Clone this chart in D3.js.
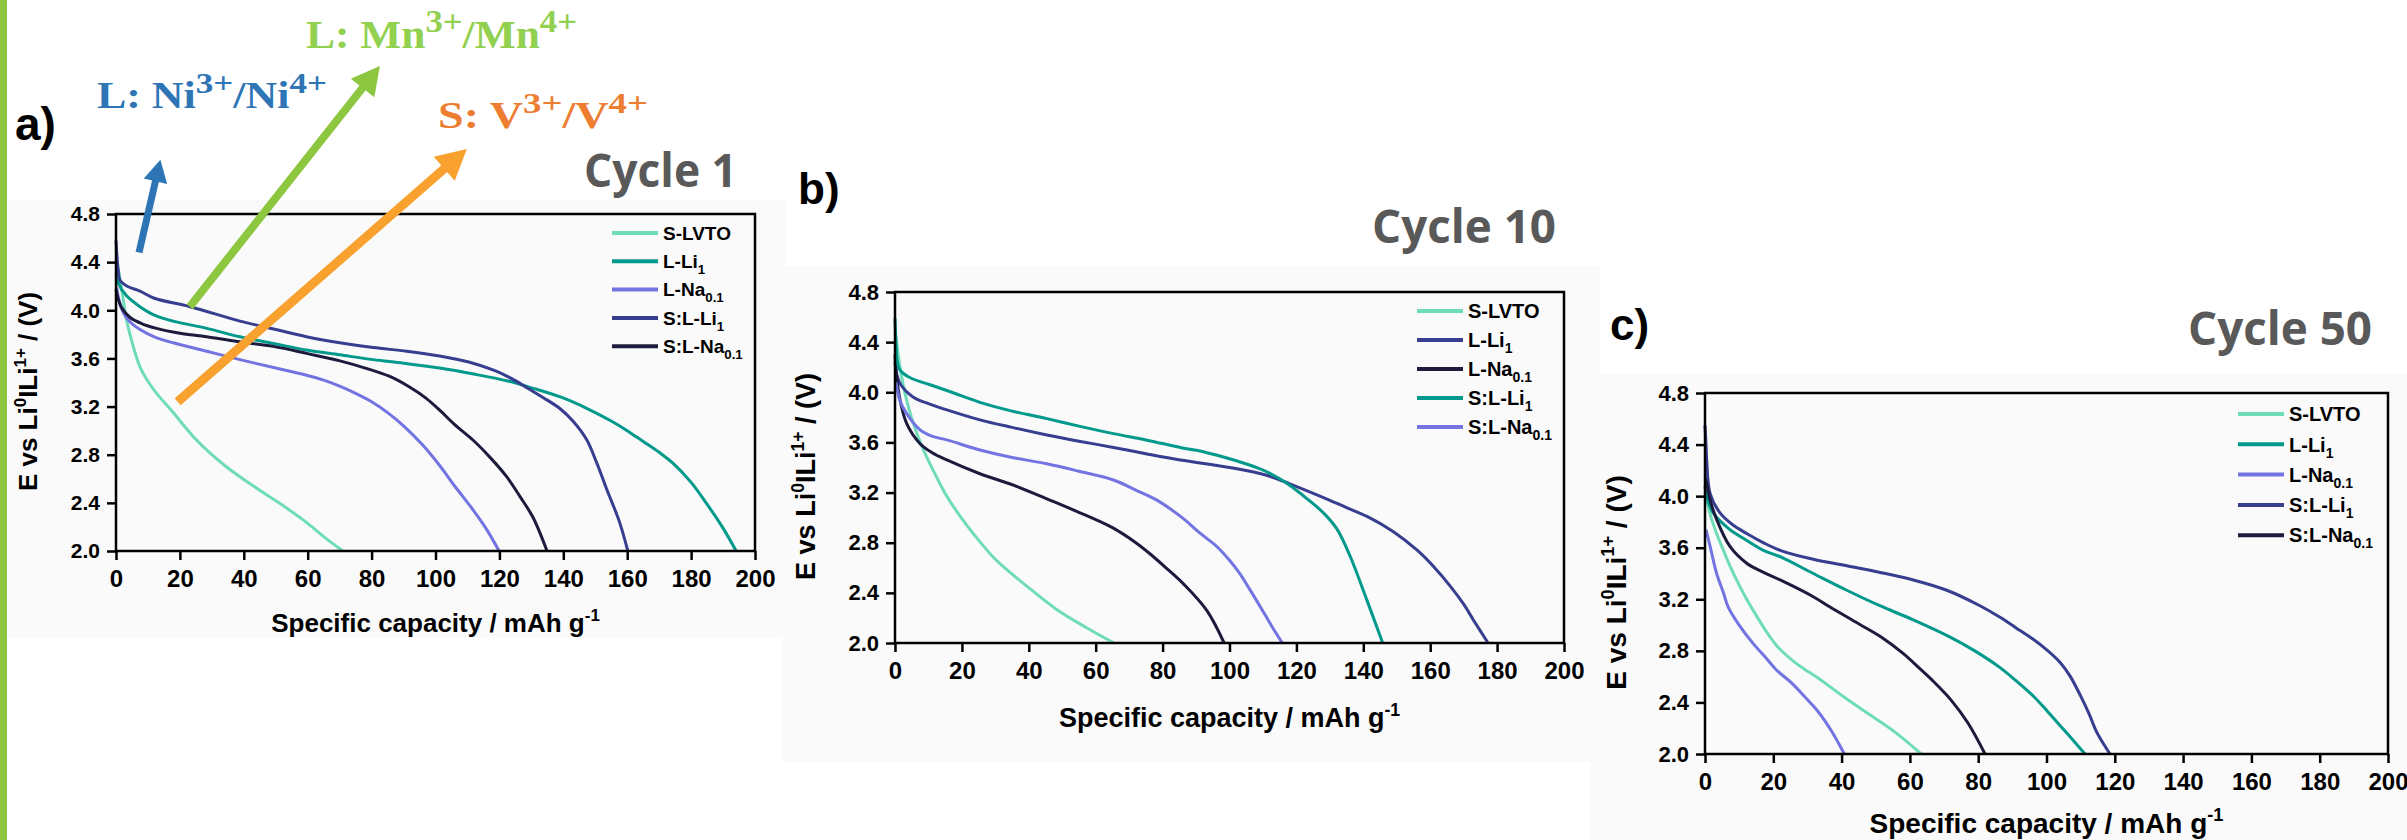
<!DOCTYPE html>
<html>
<head>
<meta charset="utf-8">
<script src="https://cdn.jsdelivr.net/npm/d3@7"></script>
<style>
body { margin: 0; background: #fff; }
svg { display: block; }
</style>
</head>
<body>
<svg id="fig" width="2407" height="840"></svg>
<script>
// ---------- data ----------
var capTicks = [0, 20, 40, 60, 80, 100, 120, 140, 160, 180, 200];
var voltTicks = [2.0, 2.4, 2.8, 3.2, 3.6, 4.0, 4.4, 4.8];
var seriesNames = ["S-LVTO", "L-Li", "L-Na", "S:L-Li", "S:L-Na"];
var seriesSubs = ["", "1", "0.1", "1", "0.1"];
var cycleTitles = ["Cycle 1", "Cycle 10", "Cycle 50"];
var panelLetters = ["a)", "b)", "c)"];

// cycle 1  [capacity mAh/g, E / V]
var c1_SLVTO = [[0.3,4.41],[1.8,4.17],[3.3,3.92],[5.4,3.70],[7.5,3.53],[10,3.41],[12.7,3.31],[17.9,3.15],[24.2,2.95],[30,2.80],[35,2.69],[43,2.54],[51,2.40],[59,2.25],[65,2.12],[71,2.0]];
var c1_LLi = [[0,4.30],[0.8,4.22],[3.3,4.12],[7.5,4.03],[12,3.96],[17.9,3.91],[28.4,3.85],[38.8,3.78],[50,3.72],[59.6,3.67],[70,3.63],[80.5,3.59],[90,3.56],[101.3,3.52],[112,3.47],[123,3.41],[129.5,3.36],[139.1,3.28],[147,3.19],[155,3.08],[160,3.00],[165,2.91],[170,2.82],[174.3,2.73],[180,2.57],[184.7,2.40],[190,2.19],[194.1,2.0]];
var c1_LNa = [[0.2,4.19],[1,4.08],[2.3,3.98],[4.5,3.90],[7.5,3.84],[12,3.78],[17.9,3.73],[28.4,3.66],[38.8,3.59],[50,3.52],[59.6,3.46],[65,3.42],[70,3.37],[75,3.31],[80,3.24],[85,3.15],[90,3.04],[96,2.88],[101.3,2.71],[106,2.54],[111.8,2.34],[116,2.18],[119.9,2.0]];
var c1_SLLi = [[0,4.58],[0.3,4.45],[0.7,4.33],[1.25,4.25],[3.5,4.20],[7.5,4.16],[12,4.10],[23.2,4.03],[38.8,3.91],[50,3.84],[59.6,3.78],[70,3.73],[80.5,3.69],[91,3.66],[101.3,3.62],[110.4,3.57],[118.4,3.50],[124,3.43],[129,3.35],[134,3.27],[139.1,3.18],[143,3.08],[147.2,2.93],[150.5,2.73],[153.5,2.52],[157.6,2.24],[160.2,2.0]];
var c1_SLNa = [[0,4.17],[0.6,4.10],[1.8,4.02],[4.4,3.94],[8,3.89],[12.7,3.85],[20,3.81],[28.4,3.78],[38,3.74],[49.2,3.70],[60,3.64],[70.1,3.58],[78,3.52],[85.7,3.45],[92,3.36],[97,3.27],[101.3,3.17],[106,3.05],[111.8,2.92],[117,2.78],[122.2,2.62],[126.5,2.45],[130.5,2.28],[134.9,2.0]];

// cycle 10
var c10_SLVTO = [[0.3,4.44],[1.5,4.20],[3.0,3.99],[5.5,3.75],[8.5,3.54],[12.5,3.32],[15.5,3.17],[19.5,3.01],[23.8,2.86],[29.9,2.67],[35,2.55],[39.1,2.46],[48.2,2.27],[57.4,2.12],[65.5,2.0]];
var c10_LLi = [[0,4.24],[0.5,4.15],[1.5,4.07],[5.5,3.96],[10,3.91],[15.5,3.86],[25.4,3.78],[35,3.72],[45.4,3.66],[55,3.61],[65.3,3.56],[75,3.51],[85.3,3.46],[100,3.40],[110.8,3.34],[118,3.27],[128.1,3.16],[135,3.08],[141.1,3.01],[148.9,2.89],[156.1,2.74],[161,2.61],[166.1,2.45],[170,2.31],[173,2.18],[177.3,2.0]];
var c10_LNa = [[0,4.30],[0.5,4.12],[1.5,3.94],[3.5,3.75],[7.5,3.59],[11,3.52],[15.5,3.46],[25.4,3.35],[35.4,3.26],[45.4,3.15],[54.3,3.05],[65,2.92],[72,2.80],[76.3,2.71],[81,2.60],[86.3,2.47],[93.2,2.26],[98.4,2.0]];
var c10_SLLi = [[0,4.59],[0.3,4.40],[0.6,4.26],[1.2,4.19],[2.5,4.15],[5,4.11],[10.5,4.06],[17,4.00],[25.4,3.92],[35,3.85],[45.4,3.79],[55,3.73],[65.3,3.67],[75,3.62],[85.3,3.56],[93,3.52],[100,3.47],[106,3.42],[110.8,3.37],[115,3.31],[118.4,3.25],[123.2,3.15],[128,3.04],[132.1,2.91],[136.1,2.69],[141.1,2.34],[145.8,2.0]];
var c10_SLNa = [[0.3,4.08],[1.5,3.93],[3.5,3.83],[7.5,3.70],[11,3.65],[15.5,3.62],[25.4,3.54],[35,3.48],[45.4,3.43],[55,3.37],[65.3,3.30],[72,3.22],[78.3,3.14],[86.3,2.99],[91,2.88],[96.2,2.77],[100,2.66],[103.2,2.55],[106,2.43],[109.2,2.29],[112.5,2.14],[115.8,2.0]];

// cycle 50
var c50_SLVTO = [[0.3,4.00],[1.5,3.86],[3.4,3.71],[5.4,3.58],[7.3,3.46],[10.2,3.30],[12.2,3.20],[14.2,3.11],[17.7,2.96],[21,2.84],[25.4,2.73],[29,2.66],[33.1,2.59],[40.8,2.44],[48.5,2.30],[56.1,2.16],[63.3,2.0]];
var c50_LLi = [[0,4.08],[0.5,4.00],[2.4,3.87],[7.3,3.74],[12,3.66],[17.1,3.58],[22,3.53],[31.7,3.40],[41.5,3.27],[51.2,3.15],[61,3.04],[71.5,2.91],[79,2.80],[86.4,2.67],[91,2.57],[96.1,2.45],[100,2.34],[104,2.22],[108,2.10],[111.3,2.0]];
var c50_LNa = [[0.3,3.74],[1.5,3.61],[3.4,3.40],[5.4,3.25],[6.8,3.14],[10,3.00],[14,2.86],[17.7,2.75],[21,2.65],[25.4,2.55],[29,2.45],[33.1,2.33],[37,2.18],[40.8,2.0]];
var c50_SLLi = [[0,4.55],[0.3,4.40],[0.5,4.28],[1.5,4.02],[4.4,3.87],[8,3.78],[12.2,3.71],[17,3.64],[22,3.58],[31.7,3.51],[41.5,3.46],[51,3.41],[61,3.35],[70.8,3.27],[80.5,3.15],[86.4,3.06],[91,2.98],[96.1,2.89],[100,2.81],[104,2.71],[107,2.60],[109.8,2.46],[112.5,2.31],[114.7,2.17],[118.6,2.0]];
var c50_SLNa = [[0,4.14],[0.3,4.12],[1.5,3.97],[3.4,3.82],[7.3,3.61],[12.2,3.48],[17,3.41],[22,3.35],[31.7,3.22],[36.6,3.14],[45,3.01],[52,2.90],[58,2.78],[63,2.66],[67,2.56],[72,2.42],[77,2.24],[82,2.0]];

// annotation arrows of panel a, ends in data units [capacity, E]
var arrowFrom = [[7.2,4.48],[23.1,4.03],[19.3,3.24]];
var arrowTo = [[13.9,5.25],[82.6,6.03],[109.8,5.34]];

// ---------- styles / layout ----------
var col = {aqua:"#6fdcb9", teal:"#00998b", peri:"#7373e2", slate:"#373d8f", navy:"#1c1b3d"};
var SANS = "'Liberation Sans', Arial, sans-serif";

var panels = [
  {box:{l:116, r:755, t:214, b:551}, data:[c1_SLVTO,c1_LLi,c1_LNa,c1_SLLi,c1_SLNa],
   colors:[col.aqua,col.teal,col.peri,col.slate,col.navy],
   legend:{dx:143, dy:19, step:28.3, fs:19}, yfs:21, xfs:24, tfs:26,
   ytitleX:37, xtitleY:632, letter:{x:15, y:140, fs:46}, cyc:{x:737, y:187, fs:47, w:153},
   bg:{x:8, y:200, w:777, h:437}},
  {box:{l:895, r:1564, t:292, b:643}, data:[c10_SLVTO,c10_LLi,c10_LNa,c10_SLLi,c10_SLNa],
   colors:[col.aqua,col.slate,col.navy,col.teal,col.peri],
   legend:{dx:147, dy:19, step:29, fs:20}, yfs:22, xfs:24, tfs:27,
   ytitleX:815, xtitleY:727, letter:{x:798, y:204, fs:44}, cyc:{x:1556, y:243, fs:46, w:184},
   bg:{x:783, y:266, w:817, h:496}},
  {box:{l:1705, r:2388, t:393, b:754}, data:[c50_SLVTO,c50_LLi,c50_LNa,c50_SLLi,c50_SLNa],
   colors:[col.aqua,col.teal,col.peri,col.slate,col.navy],
   legend:{dx:150, dy:21, step:30.3, fs:20}, yfs:22, xfs:24, tfs:28,
   ytitleX:1626, xtitleY:833, letter:{x:1610, y:340, fs:44}, cyc:{x:2372, y:345, fs:46, w:184},
   bg:{x:1590, y:375, w:817, h:465}}
];

var svg = d3.select("#fig");
svg.append("rect").attr("width", 2407).attr("height", 840).attr("fill", "#fff");

// faint panel backgrounds
panels.forEach(function(p) {
  svg.append("rect").attr("x", p.bg.x).attr("y", p.bg.y)
    .attr("width", p.bg.w).attr("height", p.bg.h).attr("fill", "#fafafa");
});

// green bar at the far left
svg.append("rect").attr("x", 0).attr("y", 0).attr("width", 7).attr("height", 840).attr("fill", "#8dc63f");

var scales = [];

panels.forEach(function(p, pi) {
  var x = d3.scaleLinear().domain([0, 200]).range([p.box.l, p.box.r]);
  var y = d3.scaleLinear().domain([2.0, 4.8]).range([p.box.b, p.box.t]);
  scales.push({x: x, y: y});
  var g = svg.append("g");

  // curves
  var line = d3.line().x(function(d) { return x(d[0]); }).y(function(d) { return y(d[1]); })
    .curve(d3.curveCatmullRom.alpha(0.5));
  p.data.forEach(function(s, i) {
    g.append("path").datum(s).attr("d", line)
      .attr("fill", "none").attr("stroke", p.colors[i]).attr("stroke-width", 3)
      .attr("stroke-linejoin", "round");
  });

  // axes
  var xa = g.append("g").attr("transform", "translate(0," + p.box.b + ")")
    .call(d3.axisBottom(x).tickValues(capTicks).tickSize(9).tickSizeOuter(0).tickPadding(10));
  xa.selectAll("text").attr("font-size", p.xfs);
  var ya = g.append("g").attr("transform", "translate(" + p.box.l + ",0)")
    .call(d3.axisLeft(y).tickValues(voltTicks).tickSize(9).tickSizeOuter(0).tickPadding(7)
      .tickFormat(d3.format(".1f")));
  ya.selectAll("text").attr("font-size", p.yfs);
  [xa, ya].forEach(function(a) {
    a.attr("font-family", SANS).attr("font-weight", "bold");
    a.selectAll("text").attr("fill", "#000");
    a.selectAll("line").attr("stroke", "#000").attr("stroke-width", 2.5);
    a.select(".domain").attr("stroke", "none");
  });
  g.append("rect").attr("x", p.box.l).attr("y", p.box.t)
    .attr("width", p.box.r - p.box.l).attr("height", p.box.b - p.box.t)
    .attr("fill", "none").attr("stroke", "#000").attr("stroke-width", 2.5);

  // legend
  var lg = g.append("g").attr("font-family", SANS).attr("font-weight", "bold");
  seriesNames.forEach(function(name, i) {
    var ly = p.box.t + p.legend.dy + i * p.legend.step;
    var lx = p.box.r - p.legend.dx;
    lg.append("line").attr("x1", lx).attr("x2", lx + 46).attr("y1", ly).attr("y2", ly)
      .attr("stroke", p.colors[i]).attr("stroke-width", 4);
    var t = lg.append("text").attr("x", lx + 51).attr("y", ly).attr("dy", "0.36em")
      .attr("font-size", p.legend.fs).attr("fill", "#000");
    t.append("tspan").text(name);
    if (seriesSubs[i]) {
      t.append("tspan").attr("font-size", p.legend.fs * 0.7).attr("dy", 6).text(seriesSubs[i]);
    }
  });

  // axis titles
  var cy = (p.box.t + p.box.b) / 2 + 9;
  var yt = g.append("text").attr("transform", "translate(" + p.ytitleX + "," + cy + ") rotate(-90)")
    .attr("text-anchor", "middle").attr("font-family", SANS).attr("font-weight", "bold")
    .attr("font-size", p.tfs).attr("fill", "#000");
  var sup = p.tfs * 0.65, lift = p.tfs * 0.42;
  yt.append("tspan").text("E vs Li");
  yt.append("tspan").attr("font-size", sup).attr("dy", -lift).text("0");
  yt.append("tspan").attr("dy", lift).text("ILi");
  yt.append("tspan").attr("font-size", sup).attr("dy", -lift).text("1+");
  yt.append("tspan").attr("dy", lift).text(" / (V)");

  var xt = g.append("text").attr("x", (p.box.l + p.box.r) / 2).attr("y", p.xtitleY)
    .attr("text-anchor", "middle").attr("font-family", SANS).attr("font-weight", "bold")
    .attr("font-size", p.tfs).attr("fill", "#000");
  xt.append("tspan").text("Specific capacity / mAh g");
  xt.append("tspan").attr("font-size", sup).attr("dy", -lift).text("-1");

  // panel letter and cycle title
  g.append("text").attr("x", p.letter.x).attr("y", p.letter.y)
    .attr("font-family", SANS).attr("font-weight", "bold").attr("font-size", p.letter.fs)
    .attr("fill", "#000").text(panelLetters[pi]);
  g.append("text").attr("x", p.cyc.x).attr("y", p.cyc.y).attr("text-anchor", "end")
    .attr("font-family", "'Open Sans', sans-serif").attr("font-weight", "bold")
    .attr("font-size", p.cyc.fs).attr("fill", "#595959")
    .attr("textLength", p.cyc.w).attr("lengthAdjust", "spacingAndGlyphs")
    .text(cycleTitles[pi]);
});

// ---------- panel a annotations ----------
var arrowStyle = [
  {color:"#2e75b6", w:7, L:22, W:12},
  {color:"#8dc63f", w:8, L:28, W:15},
  {color:"#f8a12f", w:9, L:30, W:16}
];
var sa = scales[0];
var ann = svg.append("g");
arrowFrom.forEach(function(f, i) {
  var st = arrowStyle[i];
  var x0 = sa.x(f[0]), y0 = sa.y(f[1]);
  var x1 = sa.x(arrowTo[i][0]), y1 = sa.y(arrowTo[i][1]);
  var dx = x1 - x0, dy = y1 - y0, len = Math.sqrt(dx * dx + dy * dy);
  var ux = dx / len, uy = dy / len;
  var bx = x1 - ux * st.L, by = y1 - uy * st.L;
  ann.append("line").attr("x1", x0).attr("y1", y0).attr("x2", bx + ux * 2).attr("y2", by + uy * 2)
    .attr("stroke", st.color).attr("stroke-width", st.w);
  ann.append("polygon")
    .attr("points", [[x1, y1], [bx - uy * st.W, by + ux * st.W], [bx + uy * st.W, by - ux * st.W]]
      .map(function(q) { return q.join(","); }).join(" "))
    .attr("fill", st.color);
});

var annText = [
  {x:97, y:108, fs:38, w:230, color:"#2e75b6", parts:[["L: Ni",0],["3+",1],["/Ni",0],["4+",1]]},
  {x:306, y:48, fs:40, w:271, color:"#92d050", parts:[["L: Mn",0],["3+",1],["/Mn",0],["4+",1]]},
  {x:438, y:128, fs:38, w:210, color:"#ed7d31", parts:[["S: V",0],["3+",1],["/V",0],["4+",1]]}
];
annText.forEach(function(a) {
  var t = ann.append("text").attr("x", a.x).attr("y", a.y)
    .attr("font-family", "'Liberation Serif', 'DejaVu Serif', serif").attr("font-weight", "bold")
    .attr("font-size", a.fs).attr("fill", a.color)
    .attr("textLength", a.w).attr("lengthAdjust", "spacingAndGlyphs");
  var raised = false, lift = a.fs * 0.4;
  a.parts.forEach(function(pt) {
    var s = t.append("tspan").text(pt[0]);
    if (pt[1] && !raised) { s.attr("dy", -lift).attr("font-size", a.fs * 0.8); raised = true; }
    else if (!pt[1] && raised) { s.attr("dy", lift); raised = false; }
  });
});
</script>
</body>
</html>
